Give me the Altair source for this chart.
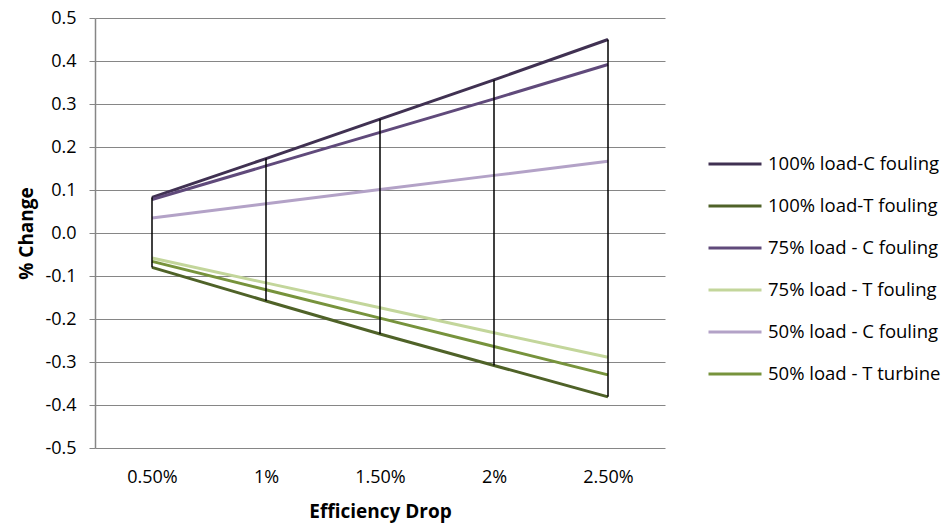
import altair as alt
import pandas as pd

categories = ["0.50%", "1%", "1.50%", "2%", "2.50%"]
series_names = [
    "100% load-C fouling",
    "100% load-T fouling",
    "75% load - C fouling",
    "75% load - T fouling",
    "50% load - C fouling",
    "50% load - T turbine",
]
c100 = [0.083, 0.173, 0.265, 0.356, 0.450]
t100 = [-0.080, -0.158, -0.235, -0.308, -0.381]
c75 = [0.078, 0.156, 0.234, 0.312, 0.392]
t75 = [-0.058, -0.116, -0.174, -0.232, -0.289]
c50 = [0.035, 0.068, 0.101, 0.134, 0.167]
t50 = [-0.066, -0.132, -0.198, -0.264, -0.330]
colors = ["#403152", "#4f6228", "#604a7b", "#c3d69b", "#b3a2c7", "#77933c"]

rows = []
for name, vals in zip(series_names, [c100, t100, c75, t75, c50, t50]):
    for cat, v in zip(categories, vals):
        rows.append({"Efficiency Drop": cat, "series": name, "value": v})
df = pd.DataFrame(rows)

FONT = "Open Sans"

x = alt.X("Efficiency Drop:O", sort=categories,
          scale=alt.Scale(type="point", padding=0.5),
          axis=alt.Axis(title="Efficiency Drop", labelAngle=0, domain=False, ticks=False,
                        labelPadding=20, titlePadding=16))
y = alt.Y("value:Q", scale=alt.Scale(domain=[-0.5, 0.5]),
          axis=alt.Axis(title="% Change", format=".1f", values=[round(-0.5 + 0.1 * i, 1) for i in range(11)],
                        labelExpr="replace(datum.label, '\u2212', '-')",
                        tickSize=6, labelPadding=13, titlePadding=8))

lines = alt.Chart(df).mark_line(strokeWidth=3).encode(
    x=x, y=y,
    color=alt.Color("series:N", scale=alt.Scale(domain=series_names, range=colors),
                    legend=alt.Legend(title=None, orient="none", legendX=612, legendY=118,
                                      symbolType="stroke", symbolSize=2809, symbolStrokeWidth=3,
                                      labelFontSize=18.5, labelFont=FONT, labelColor="#000000",
                                      labelLimit=400,
                                      rowPadding=4, padding=0, labelOffset=5)),
    order=alt.Order("series:N"),
)

rules = alt.Chart(df).transform_aggregate(
    lo="min(value)", hi="max(value)", groupby=["Efficiency Drop"]
).mark_rule(color="#000000", strokeWidth=1.5).encode(
    x=alt.X("Efficiency Drop:O", sort=categories, scale=alt.Scale(type="point", padding=0.5)),
    y=alt.Y("lo:Q"),
    y2="hi:Q",
)

chart = alt.layer(lines, rules).properties(
    width=570, height=430,
    autosize=alt.AutoSizeParams(type="none"),
    padding={"left": 95, "top": 18, "right": 278, "bottom": 76},
).configure_view(stroke=None).configure_axis(
    labelFont=FONT, titleFont=FONT, labelFontSize=18, titleFontSize=19,
    titleFontWeight="bold", labelColor="#000000", titleColor="#000000",
    gridColor="#868686", domainColor="#868686", tickColor="#868686",
    gridWidth=1, domainWidth=1.5,
).configure_axisY(grid=True).configure_axisX(grid=False)

chart.save("out.html", embed_options={"renderer": "svg", "actions": False})
